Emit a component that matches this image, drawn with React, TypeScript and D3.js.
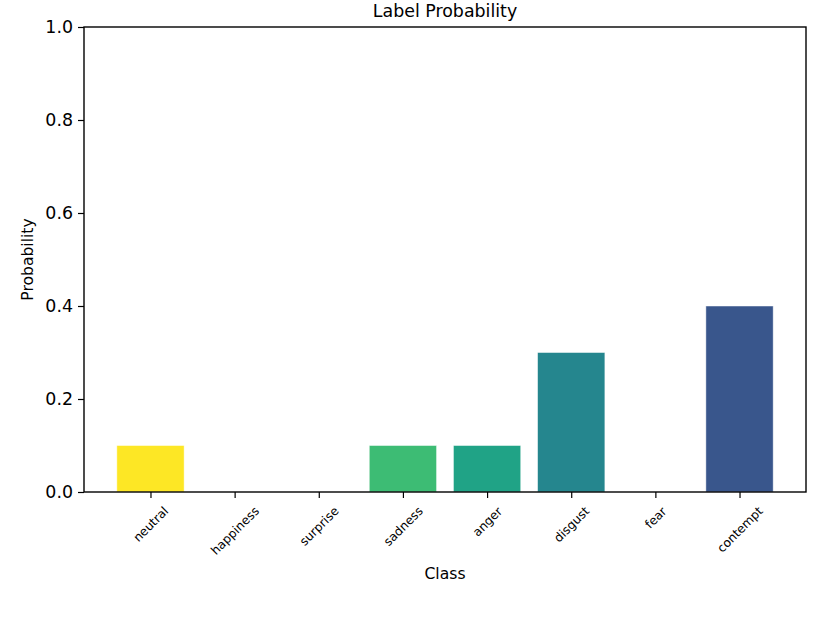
import React, { useEffect, useRef } from 'react'
import * as d3 from 'd3'

const classes = ['neutral', 'happiness', 'surprise', 'sadness', 'anger', 'disgust', 'fear', 'contempt']
const probabilities = [0.1, 0, 0, 0.1, 0.1, 0.3, 0, 0.4]
const barColors = ['#fde725', '#a0da39', '#4ac16d', '#3dbc74', '#20a386', '#25868e', '#2c718e', '#39568c']
const yTicks = [0.0, 0.2, 0.4, 0.6, 0.8, 1.0]

const width = 830
const height = 623
const margin = { left: 84, right: 24, top: 27, bottom: 131 }
const font = 'DejaVu Sans, sans-serif'

function BarChart() {
    const svgRef = useRef(null)

    useEffect(() => {
        document.body.style.margin = '0'
        const svg = d3.select(svgRef.current)
        svg.selectAll('*').remove()

        const n = classes.length
        const pad = (n - 1 + 0.8) * 0.05
        const x = d3.scaleLinear()
            .domain([-0.4 - pad, n - 1 + 0.4 + pad])
            .range([margin.left, width - margin.right])
        const y = d3.scaleLinear()
            .domain([0, 1])
            .range([height - margin.bottom, margin.top])
        const bw = x(0.8) - x(0)

        svg.append('g')
            .selectAll('rect')
            .data(probabilities)
            .join('rect')
            .attr('x', (d, i) => x(i) - bw / 2)
            .attr('y', d => y(d))
            .attr('width', bw)
            .attr('height', d => y(0) - y(d))
            .attr('fill', (d, i) => barColors[i])
            .attr('stroke', d => d > 0 ? 'rgba(255,255,255,0.6)' : 'none')
            .attr('stroke-width', 0.8)

        // frame
        svg.append('rect')
            .attr('x', margin.left).attr('y', margin.top)
            .attr('width', width - margin.left - margin.right)
            .attr('height', height - margin.top - margin.bottom)
            .attr('fill', 'none').attr('stroke', '#000').attr('stroke-width', 1.4)

        // y axis
        const yAxis = svg.append('g')
            .attr('transform', `translate(${margin.left},0)`)
            .call(d3.axisLeft(y).tickValues(yTicks).tickFormat(d3.format('.1f')).tickSize(6).tickPadding(5))
        yAxis.select('.domain').remove()
        yAxis.selectAll('.tick line').attr('stroke', '#000').attr('stroke-width', 1.2)
        yAxis.selectAll('.tick text')
            .attr('font-family', font).attr('font-size', '17.4px').attr('fill', '#000')

        // x axis
        const xAxis = svg.append('g')
            .attr('transform', `translate(0,${height - margin.bottom})`)
            .call(d3.axisBottom(x).tickValues(d3.range(n)).tickFormat((d, i) => classes[i]).tickSize(6))
        xAxis.select('.domain').remove()
        xAxis.selectAll('.tick line').attr('stroke', '#000').attr('stroke-width', 1.2)
        xAxis.selectAll('.tick text')
            .attr('font-family', font).attr('font-size', '12.2px').attr('fill', '#000')
            .attr('dy', null)
            .attr('dominant-baseline', 'central')
            .each(function () {
                const t = d3.select(this)
                const b = this.getBBox()
                const cy = 12 + (b.width + b.height) * Math.SQRT1_2 / 2
                t.attr('y', null).attr('transform', `translate(0,${cy}) rotate(-45)`)
            })

        svg.append('text')
            .attr('x', (margin.left + width - margin.right) / 2).attr('y', 17)
            .attr('text-anchor', 'middle')
            .attr('font-family', font).attr('font-size', '17.4px')
            .text('Label Probability')

        svg.append('text')
            .attr('x', (margin.left + width - margin.right) / 2).attr('y', 579)
            .attr('text-anchor', 'middle')
            .attr('font-family', font).attr('font-size', '15.6px')
            .text('Class')

        svg.append('text')
            .attr('transform', `translate(33,${(margin.top + height - margin.bottom) / 2}) rotate(-90)`)
            .attr('text-anchor', 'middle')
            .attr('font-family', font).attr('font-size', '15.6px')
            .text('Probability')
    }, [])

    return <svg ref={svgRef} width={width} height={height} style={{ display: 'block', background: '#fff' }} />
}

export default function App() {
    return <BarChart />
}
